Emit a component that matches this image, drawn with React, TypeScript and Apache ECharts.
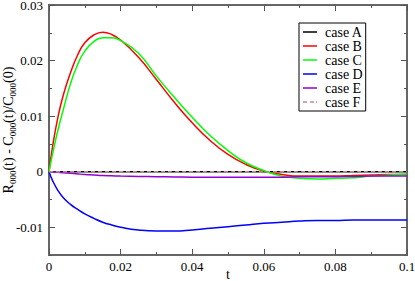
import React, { useEffect, useRef } from "react";
import * as echarts from "echarts";

const tValues = [0, 0.001, 0.0025, 0.004, 0.006, 0.008, 0.01, 0.0125, 0.015, 0.0175, 0.02, 0.025, 0.03, 0.035, 0.04, 0.045, 0.05, 0.055, 0.06, 0.065, 0.07, 0.075, 0.08, 0.085, 0.09, 0.095, 0.1];
const caseA = [0, 0, 0, 0, 0, 0, 0, 0, 0, 0, 0, 0, 0, 0, 0, 0, 0, 0, 0, 0, 0, 0, 0, 0, 0, 0, 0];
const caseB = [0, 0.0045, 0.0098, 0.0138, 0.0178, 0.021, 0.0232, 0.0246, 0.0251, 0.0247, 0.0237, 0.0206, 0.0166, 0.0125, 0.0088, 0.0056, 0.0031, 0.0013, 0.0001, -0.0005, -0.0008, -0.0008, -0.0008, -0.0007, -0.0006, -0.0005, -0.0005];
const caseC = [0, 0.0032, 0.0075, 0.0112, 0.0158, 0.0193, 0.0217, 0.0234, 0.0241, 0.0241, 0.0236, 0.0213, 0.0172, 0.0134, 0.0098, 0.0065, 0.0038, 0.0016, 0.0002, -0.0008, -0.0012, -0.0013, -0.0012, -0.0011, -0.0008, -0.0006, -0.0004];
const caseD = [0, -0.0016, -0.0034, -0.0047, -0.0059, -0.0068, -0.0076, -0.0084, -0.0091, -0.0096, -0.01, -0.0105, -0.0107, -0.0107, -0.0105, -0.0102, -0.0099, -0.0096, -0.0093, -0.0091, -0.0089, -0.0088, -0.0088, -0.0087, -0.0087, -0.0087, -0.0087];
const caseE = [0, -0.00005, -0.0001, -0.0002, -0.0003, -0.0004, -0.0005, -0.0006, -0.0007, -0.00075, -0.0008, -0.00085, -0.0009, -0.00095, -0.001, -0.001, -0.001, -0.001, -0.001, -0.001, -0.0009, -0.0009, -0.0009, -0.00085, -0.0008, -0.0008, -0.0008];
const caseF = [0, 0, 0, 0, 0, 0, 0, 0, 0, 0, 0, 0, 0, 0, 0, 0, 0, 0, 0, 0, 0, 0, 0, 0, 0, 0, 0];

const seriesNames = ["case A", "case B", "case C", "case D", "case E", "case F"];
const seriesValues = [caseA, caseB, caseC, caseD, caseE, caseF];
const seriesColors = ["#000000", "#ff0000", "#00ff00", "#0000ff", "#9400d3", "#bc8f8f"];

const yMajorTicks = [-0.01, 0, 0.01, 0.02, 0.03];
const yMinorTicks = [-0.015, -0.005, 0.005, 0.015, 0.025];
const xTitle = "t";
const yTitle = "{n|R}{s|000}{n|(t) - C}{s|000}{n|(t)/C}{s|000}{n|(0)}";

const FONT = "'Liberation Serif', 'DejaVu Serif', serif";
const SOLID_ICON = "path://M0,0H14V1.5H0Z";
const DASH_ICON = "path://M0,0H4V1.5H0Z M7,0H11V1.5H7Z M13,0H14V1.5H13Z";

export default function App() {
  const ref = useRef<HTMLDivElement>(null);
  useEffect(() => {
    if (!ref.current) return;
    const chart = echarts.init(ref.current, null, { renderer: "svg" });
    const fmt = (v: number) => String(Math.round(v * 1000) / 1000);
    const tickStyle = { color: "#555", width: 1 };
    const yBase = {
      type: "value" as const,
      min: -0.015,
      max: 0.03,
      splitLine: { show: false },
      axisLine: { show: false, onZero: false },
    };
    const xBase = {
      type: "value" as const,
      min: 0,
      max: 0.1,
      interval: 0.02,
      splitLine: { show: false },
      axisLine: { show: false, onZero: false },
      axisTick: { inside: true, length: 6, lineStyle: tickStyle },
      minorTick: { show: true, splitNumber: 2, length: 3, lineStyle: tickStyle },
    };
    chart.setOption({
      animation: false,
      backgroundColor: "#ffffff",
      grid: {
        left: 49,
        right: 8,
        top: 5,
        bottom: 26,
        containLabel: false,
        outerBoundsMode: "none",
        show: true,
        borderColor: "#666",
        borderWidth: 2,
        backgroundColor: "transparent",
      },
      legend: {
        orient: "vertical",
        left: 299,
        top: 23,
        data: seriesNames.map((name, i) => ({ name, icon: i === 5 ? DASH_ICON : SOLID_ICON })),
        backgroundColor: "#fff",
        borderColor: "#000",
        borderWidth: 1,
        borderRadius: 0,
        padding: [2, 3, 2, 4],
        itemWidth: 14,
        itemHeight: 12,
        itemGap: 0,
        textStyle: { fontFamily: FONT, fontSize: 14, color: "#000", lineHeight: 13, padding: [0, 0, 0, 3] },
      },
      xAxis: [
        {
          ...xBase,
          position: "bottom",
          axisLabel: { fontFamily: FONT, fontSize: 13, color: "#000", margin: 5, formatter: fmt },
        },
        {
          ...xBase,
          position: "top",
          axisLabel: { show: false },
        },
      ],
      yAxis: [
        {
          ...yBase,
          position: "left",
          axisTick: { inside: true, length: 6, customValues: yMajorTicks, lineStyle: tickStyle },
          axisLabel: { fontFamily: FONT, fontSize: 13, color: "#000", margin: 6, customValues: yMajorTicks, formatter: fmt, lineHeight: 8, padding: [2, 0, 0, 0] },
        },
        {
          ...yBase,
          position: "left",
          axisTick: { inside: true, length: 3, customValues: yMinorTicks, lineStyle: tickStyle },
          axisLabel: { show: false },
        },
        {
          ...yBase,
          position: "right",
          axisTick: { inside: true, length: 6, customValues: yMajorTicks, lineStyle: tickStyle },
          axisLabel: { show: false },
        },
        {
          ...yBase,
          position: "right",
          axisTick: { inside: true, length: 3, customValues: yMinorTicks, lineStyle: tickStyle },
          axisLabel: { show: false },
        },
      ],
      graphic: [
        {
          type: "text",
          x: 8,
          y: 130,
          rotation: Math.PI / 2,
          style: {
            text: yTitle,
            align: "center",
            verticalAlign: "middle",
            rich: {
              n: { fontFamily: FONT, fontSize: 14, color: "#000", lineHeight: 18, verticalAlign: "middle" },
              s: { fontFamily: FONT, fontSize: 9, color: "#000", lineHeight: 18, verticalAlign: "bottom" },
            },
          },
        },
        {
          type: "text",
          x: 228,
          y: 280,
          style: {
            text: xTitle,
            align: "center",
            verticalAlign: "bottom",
            fontFamily: FONT,
            fontSize: 14,
            lineHeight: 12,
            fill: "#000",
          },
        },
      ],
      series: seriesNames.map((name, i) => ({
        name,
        type: "line",
        xAxisIndex: 0,
        yAxisIndex: 0,
        smooth: true,
        symbol: "none",
        data: tValues.map((t, j) => [t, seriesValues[i][j]]),
        lineStyle: {
          color: seriesColors[i],
          width: 1.5,
          type: i === 5 ? [4, 3] : "solid",
        },
        itemStyle: { color: seriesColors[i] },
      })),
    });
    return () => chart.dispose();
  }, []);
  return <div ref={ref} style={{ width: 415, height: 281, position: "absolute", left: 0, top: 0 }} />;
}
